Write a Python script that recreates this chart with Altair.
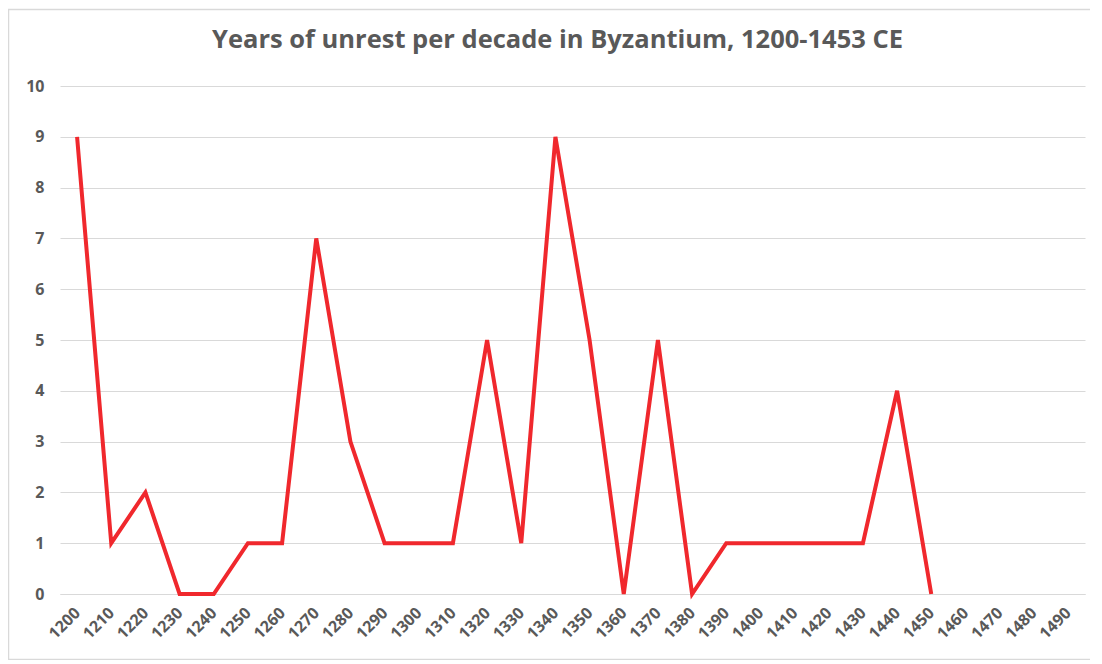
import altair as alt
import pandas as pd

decades = [str(y) for y in range(1200, 1500, 10)]
line_decades = [str(y) for y in range(1200, 1460, 10)]
unrest = [9, 1, 2, 0, 0, 1, 1, 7, 3, 1, 1, 1, 5, 1, 9, 5, 0, 5, 0, 1, 1, 1, 1, 1, 4, 0]

df = pd.DataFrame({"decade": line_decades, "years": unrest})

label_color = "#595959"
grid_color = "#d9d9d9"

base = alt.Chart(df)

line = base.mark_line(color="#f0282d", strokeWidth=4, strokeJoin="miter").encode(
    x=alt.X(
        "decade:N",
        sort=decades,
        scale=alt.Scale(domain=decades, paddingInner=0, paddingOuter=0),
        axis=alt.Axis(
            title=None,
            labelAngle=-45,
            labelAlign="right",
            labelBaseline="middle",
            labelPadding=16,
            labelFont="Open Sans",
            labelFontSize=16,
            labelFontWeight="bold",
            labelColor=label_color,
            ticks=False,
            domain=True,
            domainColor=grid_color,
            grid=False,
        ),
    ),
    y=alt.Y(
        "years:Q",
        scale=alt.Scale(domain=[0, 10], nice=False),
        axis=alt.Axis(
            title=None,
            values=list(range(0, 11)),
            labelFont="Open Sans",
            labelFontSize=16,
            labelFontWeight="bold",
            labelColor=label_color,
            labelPadding=16,
            ticks=False,
            domain=False,
            grid=True,
            gridColor=grid_color,
            gridWidth=1,
        ),
    ),
)

frame = alt.Chart(pd.DataFrame({"a": [0]})).mark_rect(
    fill=None, stroke=grid_color, strokeWidth=1.5
).encode(
    x=alt.value(-51.5), x2=alt.value(1036.5), y=alt.value(-76.5), y2=alt.value(573.5)
)

chart = alt.layer(frame, line).properties(
    width=1025,
    height=508,
    title=alt.TitleParams(
        "Years of unrest per decade in Byzantium, 1200-1453 CE",
        font="Open Sans",
        fontSize=25.5,
        fontWeight="bold",
        color=label_color,
        anchor="middle",
        baseline="alphabetic",
        dx=-15,
        dy=65,
        offset=0,
    ),
    padding={"left": 52, "top": 78, "right": 5, "bottom": 66},
    autosize=alt.AutoSizeParams(type="none"),
).configure_view(stroke=None)

chart.save("out.html", embed_options={"renderer": "svg", "actions": False})
